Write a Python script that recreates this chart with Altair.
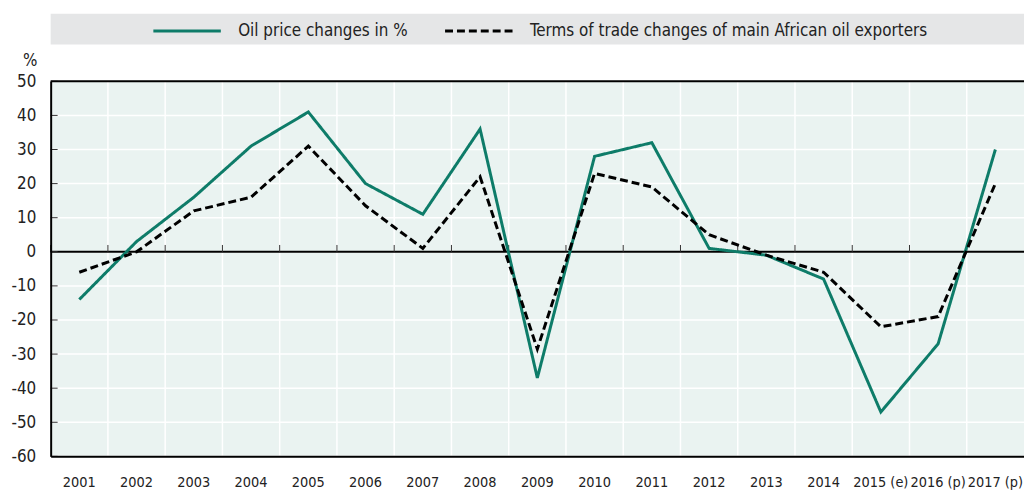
import altair as alt
import pandas as pd

years = ["2001", "2002", "2003", "2004", "2005", "2006", "2007", "2008", "2009",
         "2010", "2011", "2012", "2013", "2014", "2015 (e)", "2016 (p)", "2017 (p)"]
oil_price = [-14, 3, 16, 31, 41, 20, 11, 36, -37, 28, 32, 1, -1, -8, -47, -27, 30]
terms_of_trade = [-6, 0, 12, 16, 31, 13.5, 1, 22, -28.5, 23, 19, 5, -1, -6, -22, -19, 20]
series = ["Oil price changes in %", "Terms of trade changes of main African oil exporters"]
y_ticks = [-60, -50, -40, -30, -20, -10, 0, 10, 20, 30, 40, 50]

FONT = "DejaVu Sans Condensed, Liberation Sans Narrow, sans-serif"
GREEN = "#0e7c69"
W, H = 981, 378

lines_df = pd.DataFrame({
    "year": years + years,
    "series": [series[0]] * len(years) + [series[1]] * len(years),
    "value": oil_price + terms_of_trade,
})
years_df = pd.DataFrame({"year": years})
ticks_df = pd.DataFrame({"value": y_ticks})
one_df = pd.DataFrame({"k": [0]})

xscale = alt.Scale(type="band", domain=years, paddingInner=0, paddingOuter=0)
yscale = alt.Scale(domain=[-60, 50], nice=False, zero=False)
xaxis = alt.Axis(title=None, ticks=False, grid=False, domain=True, domainColor="#000",
                 domainWidth=2, labelPadding=19, labelFontSize=14.5, labelFont=FONT,
                 labelColor="#222", labelAngle=0, labelOverlap=False, zindex=1)
yaxis = alt.Axis(title="%", titleAngle=0, titleX=-21, titleY=-21, titleAlign="center",
                 titleBaseline="middle", titleFontSize=17, titleFont=FONT,
                 titleFontWeight="normal", titleColor="#222",
                 values=y_ticks, ticks=False, grid=False,
                 domain=True, domainColor="#000", domainWidth=2, labelPadding=15,
                 labelFontSize=17, labelFont=FONT, labelColor="#222",
                 labelExpr="datum.value + ''", labelOverlap=False, zindex=1)

def X(**kw):
    return alt.X("year:N", scale=xscale, axis=xaxis, sort=years, **kw)

def Y():
    return alt.Y("value:Q", scale=yscale, axis=yaxis)

# legend background band
legend_bg = alt.Chart(one_df).mark_rect(color="#e5e6e7").encode(
    x=alt.value(0), x2=alt.value(W), y=alt.value(-68), y2=alt.value(-37)
)

# plot background
plot_bg = alt.Chart(one_df).mark_rect(color="#eaf3f1").encode(
    x=alt.value(0), x2=alt.value(W), y=alt.value(0), y2=alt.value(H)
)

# horizontal white grid
hgrid = alt.Chart(ticks_df).mark_rule(color="white", strokeWidth=1.5).encode(
    y=Y(), x=alt.value(0), x2=alt.value(W)
)

# vertical white grid at band boundaries
vgrid = alt.Chart(years_df).mark_rule(color="white", strokeWidth=1.5).encode(
    x=X(bandPosition=0)
)

# zero line
zero = alt.Chart(one_df).mark_rule(color="#000", strokeWidth=2).encode(
    y=alt.datum(0, axis=yaxis), x=alt.value(0), x2=alt.value(W)
)

# small x ticks on the zero line
xticks = alt.Chart(years_df).mark_rule(color="#333", strokeWidth=1).encode(
    x=X(bandPosition=0), y=alt.datum(0, axis=yaxis), y2=alt.datum(2)
)

# inward y ticks
yticks = alt.Chart(ticks_df).mark_rule(color="#333", strokeWidth=1).encode(
    y=Y(), x=alt.value(0), x2=alt.value(7)
)

# top border
top = alt.Chart(one_df).mark_rule(color="#000", strokeWidth=2).encode(
    x=alt.value(0), x2=alt.value(W), y=alt.value(0)
)

legend = alt.Legend(title=None, orient="none", legendX=102, legendY=-86.5,
                    direction="horizontal", symbolType="stroke",
                    symbolSize=4624, symbolStrokeWidth=3,
                    labelFontSize=17, labelFont=FONT, labelColor="#222",
                    labelLimit=700, labelOffset=16, columnPadding=31)

lines = alt.Chart(lines_df).mark_line(strokeWidth=3, strokeJoin="miter").encode(
    x=X(bandPosition=0.5),
    y=Y(),
    color=alt.Color("series:N", scale=alt.Scale(domain=series, range=[GREEN, "#000"]),
                    legend=legend),
    strokeDash=alt.StrokeDash("series:N",
                              scale=alt.Scale(domain=series, range=[[1, 0], [8, 4]]),
                              legend=legend),
)

chart = alt.layer(legend_bg, plot_bg, hgrid, vgrid, zero, xticks, yticks, top, lines).properties(
    width=W, height=H,
    autosize=alt.AutoSizeParams(type="none"),
    padding={"left": 43, "top": 72, "right": 0, "bottom": 32},
).configure_view(strokeWidth=0).configure_axisY(labelOverlap=False).configure(background="white")

chart.save("out.html", embed_options={"renderer": "svg", "actions": False})
